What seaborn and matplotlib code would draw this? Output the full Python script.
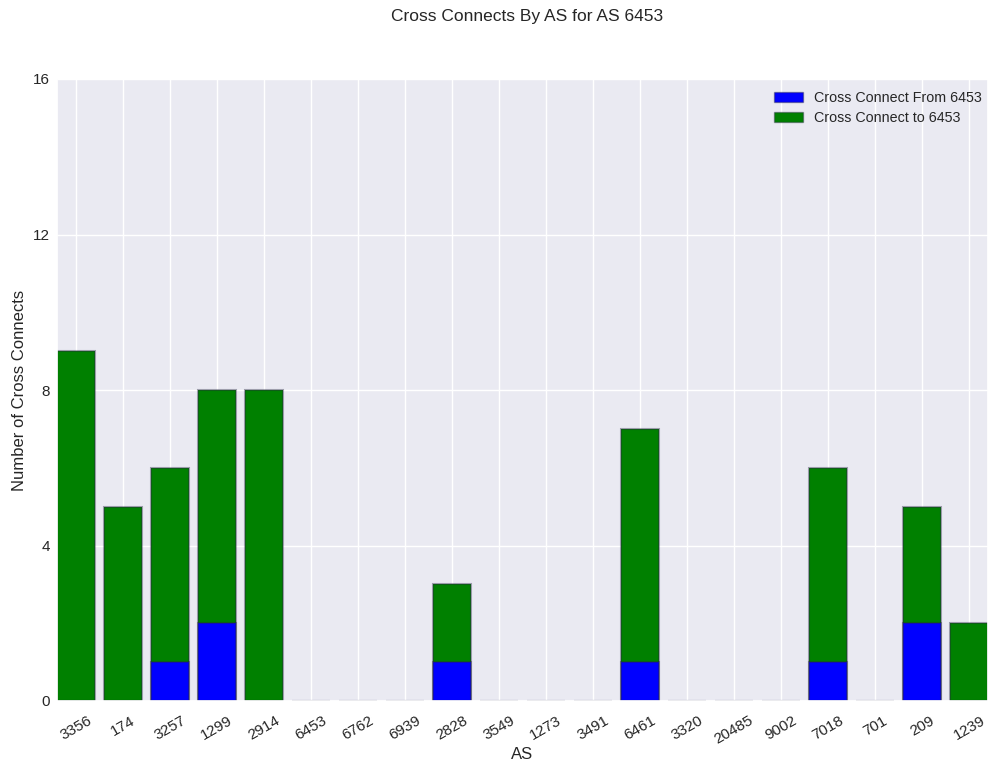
import matplotlib
matplotlib.use("Agg")
import matplotlib.pyplot as plt
import seaborn as sns
import pandas as pd
from matplotlib.patches import Patch

asns = ["3356", "174", "3257", "1299", "2914", "6453", "6762", "6939", "2828", "3549",
        "1273", "3491", "6461", "3320", "20485", "9002", "7018", "701", "209", "1239"]
from_6453 = [0, 0, 1, 2, 0, 0, 0, 0, 1, 0, 0, 0, 1, 0, 0, 0, 1, 0, 2, 0]
to_6453 = [9, 5, 5, 6, 8, 0, 0, 0, 2, 0, 0, 0, 6, 0, 0, 0, 5, 0, 3, 2]
yticks = [0, 4, 8, 12, 16]

df = pd.DataFrame({"AS": asns, "from": from_6453, "to": to_6453})
df["total"] = df["from"] + df["to"]

sns.set_theme(style="darkgrid")
plt.rcParams["font.family"] = ["Liberation Sans", "DejaVu Sans"]

fig = plt.figure(figsize=(9.91, 7.63), dpi=100)
ax = fig.add_axes([57 / 991, 1 - 701 / 763, (988 - 57) / 991, (701 - 79) / 763])

edge = (0.15, 0.15, 0.25, 0.4)
sns.barplot(data=df, x="AS", y="total", color="green", saturation=1, width=0.8,
            edgecolor=edge, linewidth=1.5, ax=ax, order=asns)
sns.barplot(data=df, x="AS", y="from", color="blue", saturation=1, width=0.8,
            edgecolor=edge, linewidth=1.5, ax=ax, order=asns)

ax.set_xlim(-0.4, len(asns) - 0.6)
ax.set_ylim(0, 16)
ax.set_yticks(yticks)
ax.xaxis.grid(True, color="white", linewidth=1)
ax.yaxis.grid(True, color="white", linewidth=1)
ax.set_axisbelow(True)
ax.tick_params(axis="x", labelsize=11, pad=3)
ax.tick_params(axis="y", labelsize=11, length=0, pad=5)
for lab in ax.get_xticklabels():
    lab.set_rotation(30)
ax.set_xlabel("AS", fontsize=12, labelpad=0)
ax.set_ylabel("Number of Cross Connects", fontsize=12, labelpad=4)
fig.text(527 / 991, 1 - 17 / 763, "Cross Connects By AS for AS 6453",
         fontsize=12.5, ha="center", va="center", color="#262626")

handles = [Patch(facecolor="blue", edgecolor=edge),
           Patch(facecolor="green", edgecolor=edge)]
ax.legend(handles, ["Cross Connect From 6453", "Cross Connect to 6453"],
          loc="upper right", bbox_to_anchor=(1.0, 0.99), frameon=False,
          fontsize=10.3, handlelength=2.0, borderaxespad=0.0, labelspacing=0.45)

fig.savefig("out.png", dpi=100)
